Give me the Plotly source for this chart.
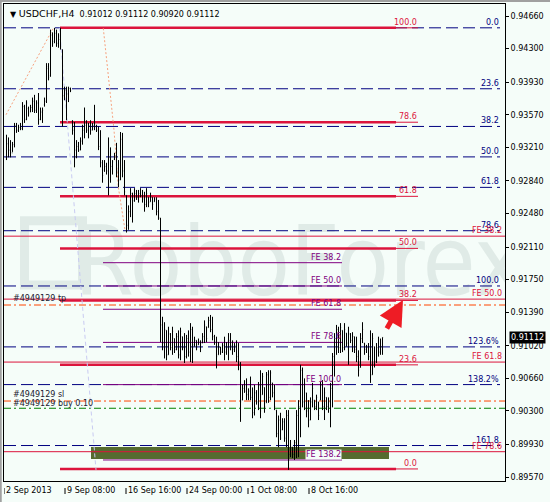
import plotly.graph_objects as go

# ---------------- data (USDCHF H4 bars) ----------------
high = [0.9335,0.9332,0.9329,0.9327,0.9348,0.9348,0.9346,0.9348,0.9371,0.9368,
        0.9373,0.9366,0.9368,0.9376,0.9379,0.9373,0.9381,0.9365,0.9365,0.9376,
        0.9414,0.9414,0.9451,0.9448,0.9453,0.9451,0.9447,0.9453,0.9429,0.9388,
        0.9388,0.9388,0.9387,0.9351,0.9349,0.9329,0.9327,0.9332,0.9346,0.9365,
        0.9351,0.9348,0.9351,0.9348,0.9368,0.9346,0.9344,0.9340,0.9307,0.9307,
        0.9304,0.9332,0.9321,0.9307,0.9315,0.9326,0.9307,0.9338,0.9337,0.9307,
        0.9268,0.9257,0.9276,0.9271,0.9276,0.9274,0.9274,0.9276,0.9274,0.9272,
        0.9276,0.9266,0.9271,0.9266,0.9266,0.9266,0.9263,0.9243,0.9134,0.9128,
        0.9119,0.9123,0.9116,0.9123,0.9110,0.9116,0.9119,0.9122,0.9112,0.9116,
        0.9114,0.9119,0.9127,0.9123,0.9112,0.9108,0.9110,0.9108,0.9116,0.9130,
        0.9123,0.9134,0.9136,0.9134,0.9114,0.9112,0.9106,0.9101,0.9105,0.9112,
        0.9106,0.9116,0.9116,0.9108,0.9105,0.9108,0.9105,0.9084,0.9059,0.9064,
        0.9066,0.9055,0.9068,0.9056,0.9059,0.9053,0.9062,0.9075,0.9072,0.9056,
        0.9073,0.9075,0.9075,0.9061,0.9059,0.9031,0.9025,0.9028,0.9022,0.9022,
        0.9031,0.9031,0.8998,0.8990,0.8998,0.9031,0.9042,0.9081,0.9078,0.9066,
        0.9050,0.9042,0.9045,0.9061,0.9042,0.9048,0.9040,0.9062,0.9064,0.9056,
        0.9045,0.9045,0.9061,0.9094,0.9116,0.9125,0.9123,0.9127,0.9119,0.9127,
        0.9116,0.9123,0.9116,0.9117,0.9112,0.9112,0.9097,0.9116,0.9128,0.9105,
        0.9103,0.9105,0.9119,0.9116,0.9101,0.9105,0.9112,0.9110,0.91112]
low = [0.9307,0.9310,0.9310,0.9316,0.9321,0.9337,0.9338,0.9340,0.9340,0.9348,
       0.9351,0.9355,0.9360,0.9360,0.9359,0.9359,0.9346,0.9351,0.9348,0.9366,
       0.9370,0.9395,0.9399,0.9432,0.9436,0.9432,0.9431,0.9429,0.9344,0.9373,
       0.9351,0.9371,0.9382,0.9335,0.9299,0.9309,0.9316,0.9318,0.9324,0.9331,
       0.9337,0.9331,0.9335,0.9340,0.9340,0.9338,0.9318,0.9299,0.9282,0.9294,
       0.9291,0.9268,0.9282,0.9291,0.9307,0.9288,0.9277,0.9285,0.9288,0.9268,
       0.9227,0.9230,0.9244,0.9238,0.9261,0.9263,0.9260,0.9266,0.9260,0.9250,
       0.9255,0.9255,0.9261,0.9252,0.9261,0.9246,0.9241,0.9106,0.9097,0.9088,
       0.9086,0.9092,0.9097,0.9092,0.9094,0.9097,0.9088,0.9086,0.9097,0.9083,
       0.9088,0.9090,0.9084,0.9083,0.9101,0.9097,0.9103,0.9095,0.9105,0.9105,
       0.9106,0.9122,0.9117,0.9108,0.9103,0.9077,0.9092,0.9092,0.9094,0.9086,
       0.9092,0.9086,0.9097,0.9092,0.9095,0.9084,0.9075,0.9018,0.9042,0.9050,
       0.9042,0.9042,0.9042,0.9022,0.9025,0.9037,0.9031,0.9022,0.9048,0.9028,
       0.9039,0.9039,0.9042,0.9045,0.9031,0.9001,0.8990,0.8998,0.9009,0.8996,
       0.8990,0.8965,0.8979,0.8978,0.8976,0.8978,0.8979,0.9001,0.9034,0.9031,
       0.9023,0.9012,0.9020,0.9034,0.9031,0.9031,0.9020,0.9042,0.9031,0.9020,
       0.9031,0.9028,0.9012,0.9034,0.9068,0.9092,0.9094,0.9094,0.9095,0.9097,
       0.9101,0.9081,0.9105,0.9095,0.9094,0.9084,0.9068,0.9078,0.9105,0.9092,
       0.9094,0.9086,0.9061,0.9070,0.9078,0.9083,0.9090,0.9092,0.90920]
open_ = [0.9310,0.9325,0.9318,0.9315,0.9324,0.9345,0.9340,0.9343,0.9342,0.9366,
         0.9352,0.9364,0.9360,0.9365,0.9372,0.9362,0.9370,0.9352,0.9360,0.9368,
         0.9372,0.9408,0.9400,0.9445,0.9438,0.9447,0.9436,0.9440,0.9429,0.9378,
         0.9384,0.9380,0.9386,0.9350,0.9340,0.9318,0.9322,0.9318,0.9328,0.9340,
         0.9345,0.9340,0.9345,0.9340,0.9345,0.9344,0.9340,0.9322,0.9304,0.9296,
         0.9300,0.9295,0.9310,0.9300,0.9308,0.9312,0.9295,0.9285,0.9330,0.9295,
         0.9268,0.9235,0.9250,0.9270,0.9262,0.9270,0.9266,0.9270,0.9268,0.9264,
         0.9258,0.9266,0.9261,0.9266,0.9261,0.9264,0.9250,0.9243,0.9125,0.9105,
         0.9119,0.9092,0.9115,0.9100,0.9110,0.9098,0.9112,0.9092,0.9112,0.9100,
         0.9090,0.9110,0.9095,0.9120,0.9103,0.9108,0.9103,0.9106,0.9105,0.9112,
         0.9123,0.9122,0.9130,0.9120,0.9112,0.9106,0.9092,0.9100,0.9095,0.9102,
         0.9095,0.9100,0.9108,0.9102,0.9098,0.9102,0.9090,0.9082,0.9042,0.9055,
         0.9052,0.9048,0.9052,0.9045,0.9028,0.9050,0.9040,0.9058,0.9048,0.9056,
         0.9039,0.9070,0.9045,0.9061,0.9050,0.9031,0.9005,0.9020,0.9009,0.9018,
         0.9000,0.9025,0.8982,0.8990,0.8982,0.8995,0.9025,0.9035,0.9075,0.9040,
         0.9050,0.9030,0.9020,0.9040,0.9042,0.9035,0.9040,0.9042,0.9058,0.9035,
         0.9045,0.9035,0.9040,0.9055,0.9090,0.9110,0.9120,0.9100,0.9119,0.9100,
         0.9116,0.9105,0.9115,0.9108,0.9112,0.9098,0.9090,0.9078,0.9110,0.9105,
         0.9098,0.9100,0.9090,0.9070,0.9101,0.9085,0.9100,0.9095,0.91012]
close = [0.9325,0.9318,0.9315,0.9324,0.9345,0.9340,0.9343,0.9342,0.9366,0.9352,
         0.9370,0.9358,0.9365,0.9372,0.9362,0.9370,0.9352,0.9360,0.9362,0.9372,
         0.9410,0.9398,0.9445,0.9436,0.9447,0.9436,0.9440,0.9432,0.9378,0.9384,
         0.9380,0.9386,0.9384,0.9340,0.9318,0.9322,0.9318,0.9328,0.9340,0.9345,
         0.9340,0.9345,0.9340,0.9345,0.9344,0.9340,0.9322,0.9304,0.9290,0.9300,
         0.9295,0.9310,0.9300,0.9305,0.9312,0.9295,0.9285,0.9330,0.9295,0.9272,
         0.9235,0.9250,0.9270,0.9262,0.9270,0.9266,0.9270,0.9268,0.9264,0.9258,
         0.9270,0.9260,0.9266,0.9258,0.9264,0.9250,0.9243,0.9125,0.9105,0.9120,
         0.9092,0.9115,0.9100,0.9118,0.9098,0.9112,0.9092,0.9118,0.9100,0.9090,
         0.9110,0.9095,0.9120,0.9103,0.9108,0.9100,0.9106,0.9100,0.9112,0.9125,
         0.9110,0.9130,0.9120,0.9112,0.9106,0.9090,0.9100,0.9095,0.9102,0.9095,
         0.9100,0.9108,0.9102,0.9098,0.9102,0.9090,0.9082,0.9040,0.9055,0.9052,
         0.9048,0.9052,0.9045,0.9028,0.9050,0.9040,0.9058,0.9030,0.9068,0.9035,
         0.9070,0.9045,0.9072,0.9050,0.9035,0.9005,0.9020,0.9000,0.9018,0.9000,
         0.9025,0.8982,0.8990,0.8982,0.8995,0.9025,0.9035,0.9075,0.9040,0.9060,
         0.9030,0.9020,0.9040,0.9055,0.9035,0.9045,0.9025,0.9058,0.9035,0.9050,
         0.9035,0.9040,0.9055,0.9090,0.9110,0.9120,0.9100,0.9122,0.9100,0.9120,
         0.9105,0.9115,0.9108,0.9112,0.9098,0.9090,0.9075,0.9110,0.9120,0.9098,
         0.9100,0.9090,0.9070,0.9110,0.9085,0.9100,0.9095,0.9101,0.91112]

ytick_vals = [0.94660, 0.94300, 0.93930, 0.93570, 0.93210, 0.92840, 0.92480, 0.92110,
              0.91750, 0.91390, 0.91020, 0.90660, 0.90300, 0.89930, 0.89570]
xtick_text = ["2 Sep 2013", "9 Sep 08:00", "16 Sep 16:00", "24 Sep 00:00", "1 Oct 08:00", "8 Oct 16:00"]
xtick_pos = [-1.25, 29.25, 59.75, 90.25, 120.75, 151.25]

symbol = "USDCHF,H4"
last_ohlc = [0.91012, 0.91112, 0.90920, 0.91112]

# Fibonacci retracement (navy, dashed)
fib_navy_hi, fib_navy_lo = 0.9453, 0.9168
fib_navy_levels = [0.0, 0.236, 0.382, 0.5, 0.618, 0.786, 1.0, 1.236, 1.382, 1.618]
fib_navy_labels = ["0.0", "23.6", "38.2", "50.0", "61.8", "78.6", "100.0", "123.6%", "138.2%", "161.8"]
# Fibonacci retracement (crimson, thick)
fib_red_hi, fib_red_lo = 0.9453, 0.8966
fib_red_levels = [0.0, 0.236, 0.382, 0.5, 0.618, 0.786, 1.0]
fib_red_labels = ["0.0", "23.6", "38.2", "50.0", "61.8", "78.6", "100.0"]
# Fibonacci expansion (crimson, thin)
fe_red_start, fe_red_size = 0.9448, 0.0589
fe_red_levels = [0.382, 0.5, 0.618, 0.786]
fe_red_labels = ["FE 38.2", "FE 50.0", "FE 61.8", "FE 78.6"]
# Fibonacci expansion (purple)
fe_pur_start, fe_pur_size = 0.92769, 0.02178
fe_pur_levels = [0.382, 0.5, 0.618, 0.786, 1.0, 1.382]
fe_pur_labels = ["FE 38.2", "FE 50.0", "FE 61.8", "FE 78.6", "FE 100.0", "FE 138.2"]

# order lines
order_id = "#4949129"
order_tp, order_sl, order_open, order_lots = 0.9147, 0.9041, 0.9033, "0.10"

# drawing anchors (bar index, price)
fib_red_x = [26.75, 194.75, 205.75]
fib_navy_label_x = 246.75
fe_red_label_x = 248.25
fe_pur_x = [48.25, 167.75]
zone_x = [42.25, 191.25]
zone_y = [0.89770, 0.89902]
fib_diag_x = [26.5, 44.75]
fib_diag_y = [0.9453, 0.8965]
swing1_x = [-0.25, 23.25]
swing1_y = [0.9357, 0.9452]
swing2_x = [48.4, 51.4, 53.75, 55.9, 59.25]
swing2_y = [0.94525, 0.93899, 0.93402, 0.92773, 0.92298]
arrow_from = (189.75, 0.91194)
arrow_to = (198.25, 0.91525)
watermark = "RoboForex"

# ---------------- styling ----------------
BG = "#F5FDF9"
NAVY = "#000080"
CRIMSON = "#DC143C"
PURPLE = "#800080"
ORANGE = "#FF4500"
GREEN = "#008000"
FONT = "DejaVu Sans"
YMIN, YMAX = 0.89527, 0.94793
XMIN, XMAX = -1.25, 249.25

idx = list(range(len(high)))
fig = go.Figure()
fig.add_trace(go.Ohlc(x=idx, open=open_, high=high, low=low, close=close,
                      increasing=dict(line=dict(color="black", width=1)),
                      decreasing=dict(line=dict(color="black", width=1)),
                      tickwidth=0.3, hoverinfo="skip", showlegend=False))

shapes = []
annos = []

def hline(x0, x1, y, color, width=1, dash="solid"):
    shapes.append(dict(type="line", xref="x", yref="y", x0=x0, x1=x1, y0=y, y1=y,
                       line=dict(color=color, width=width, dash=dash), layer="below"))

def label(x, y, text, color, xanchor="right", bg=None, yshift=0):
    a = dict(x=x, y=y, xref="x", yref="y", text=text, showarrow=False,
             xanchor=xanchor, yanchor="bottom", yshift=yshift, borderpad=0,
             font=dict(family=FONT, size=8, color=color))
    if bg:
        a["bgcolor"] = bg
    annos.append(a)

# watermark (below bars)
shapes.append(dict(type="rect", xref="x", yref="y", x0=46, x1=247, y0=0.9170, y1=0.9235,
                   line=dict(width=0), fillcolor="rgba(0,0,0,0)", layer="below",
                   label=dict(text=watermark, textposition="middle center",
                              font=dict(family="Liberation Sans Narrow, DejaVu Sans Condensed, Liberation Sans",
                                        size=96, color="#E0EBE7"))))
shapes.append(dict(type="rect", xref="x", yref="y", x0=9, x1=38, y0=0.9169, y1=0.9240,
                   line=dict(width=9, color="#E0EBE7"), fillcolor="rgba(0,0,0,0)", layer="below"))

# green zone
shapes.append(dict(type="rect", xref="x", yref="y", x0=zone_x[0], x1=zone_x[1],
                   y0=zone_y[0], y1=zone_y[1], line=dict(width=0),
                   fillcolor="#556B2F", layer="below"))

# navy fibo
for r, t in zip(fib_navy_levels, fib_navy_labels):
    y = fib_navy_hi - r * (fib_navy_hi - fib_navy_lo)
    hline(XMIN, fib_navy_label_x, y, NAVY, 1, "12px,5px")
    label(fib_navy_label_x, y, t, NAVY)

# crimson FE thin lines
for r, t in zip(fe_red_levels, fe_red_labels):
    y = fe_red_start - r * fe_red_size
    hline(XMIN, XMAX, y, CRIMSON, 1)
    label(fe_red_label_x, y, t, CRIMSON)

# crimson fibo thick
for r, t in zip(fib_red_levels, fib_red_labels):
    y = fib_red_lo + r * (fib_red_hi - fib_red_lo)
    hline(fib_red_x[0], fib_red_x[1], y, CRIMSON, 2.5)
    hline(fib_red_x[1], fib_red_x[2], y, CRIMSON, 1)
    label(fib_red_x[2], y, t, CRIMSON)

# purple FE
for r, t in zip(fe_pur_levels, fe_pur_labels):
    y = fe_pur_start - r * fe_pur_size
    hline(fe_pur_x[0], fe_pur_x[1], y, PURPLE, 1)
    label(fe_pur_x[1], y, t, PURPLE, bg=(BG if t == "FE 138.2" else None))

# order lines
hline(XMIN, XMAX, order_tp, ORANGE, 1, "7px,3px,2px,3px")
hline(XMIN, XMAX, order_sl, ORANGE, 1, "7px,3px,2px,3px")
hline(XMIN, XMAX, order_open, GREEN, 1, "7px,3px,2px,3px")
label(2.75, order_tp, order_id + " tp", "#202030", xanchor="left", yshift=1)
label(2.75, order_sl, order_id + " sl", "#202030", xanchor="left", yshift=1)
label(2.75, order_open, order_id + " buy " + order_lots, "#202030", xanchor="left", yshift=-1)

# diagonal / swing lines
shapes.append(dict(type="line", xref="x", yref="y", x0=fib_diag_x[0], x1=fib_diag_x[1],
                   y0=fib_diag_y[0], y1=fib_diag_y[1],
                   line=dict(color="#C9CBF2", width=1, dash="4px,3px"), layer="below"))
shapes.append(dict(type="line", xref="x", yref="y", x0=swing1_x[0], x1=swing1_x[1],
                   y0=swing1_y[0], y1=swing1_y[1],
                   line=dict(color="#F7A27F", width=1, dash="2px,2px"), layer="below"))
path = "M " + " L ".join(f"{x},{y}" for x, y in zip(swing2_x, swing2_y))
shapes.append(dict(type="path", xref="x", yref="y", path=path,
                   line=dict(color="#F7A27F", width=1, dash="2px,2px"), layer="below"))

# x tick separators + labels
for p, t in zip(xtick_pos, xtick_text):
    shapes.append(dict(type="line", xref="x", yref="paper", ysizemode="pixel", yanchor=0,
                       x0=p, x1=p, y0=-7, y1=-13, line=dict(color="black", width=1)))
    annos.append(dict(x=p, y=0, xref="x", yref="paper", text=t, showarrow=False,
                      xanchor="left", yanchor="top", xshift=1, yshift=-4, borderpad=0,
                      font=dict(family=FONT, size=8, color="black")))

# outer gray window frame
shapes.append(dict(type="line", xref="paper", yref="paper", x0=-0.0065, x1=-0.0065,
                   y0=-0.05, y1=1.01, line=dict(color="#A0A0A0", width=2)))
shapes.append(dict(type="line", xref="paper", yref="paper", x0=-0.01, x1=1.1,
                   y0=1.0065, y1=1.0065, line=dict(color="#A0A0A0", width=2)))

# title
title_txt = ("\u25BC <span style='font-size:9.5px'>" + symbol + "</span>\u00a0 "
             + " ".join(f"{v:.5f}" for v in last_ohlc))
annos.append(dict(x=0.01, y=0.981, xref="paper", yref="paper", text=title_txt, showarrow=False,
                  xanchor="left", yanchor="middle", borderpad=0,
                  font=dict(family=FONT, size=8, color="black")))

# current price box
annos.append(dict(x=1, y=last_ohlc[3], xref="paper", yref="y", text=f"{last_ohlc[3]:.5f}",
                  showarrow=False, xanchor="left", yanchor="middle", xshift=4, borderpad=1,
                  bgcolor="black", font=dict(family=FONT, size=8, color="white")))

# red arrow
annos.append(dict(x=arrow_to[0], y=arrow_to[1], ax=arrow_from[0], ay=arrow_from[1],
                  xref="x", yref="y", axref="x", ayref="y", text="", showarrow=True,
                  arrowhead=2, arrowsize=1, arrowwidth=5, arrowcolor="#EE1C25"))

fig.update_layout(
    width=550, height=502,
    margin=dict(l=4, r=45, t=4, b=21),
    paper_bgcolor=BG, plot_bgcolor=BG,
    font=dict(family=FONT, size=8, color="black"),
    showlegend=False,
    shapes=shapes, annotations=annos,
    xaxis=dict(range=[XMIN, XMAX], rangeslider=dict(visible=False), showgrid=False,
               zeroline=False, showline=True, linecolor="black", linewidth=1, mirror=True,
               showticklabels=False, ticks=""),
    yaxis=dict(range=[YMIN, YMAX], side="right", tickvals=ytick_vals,
               ticktext=[f"{v:.5f}" for v in ytick_vals], ticks="outside", ticklen=3,
               tickcolor="black", showgrid=False, zeroline=False, showline=True,
               linecolor="black", linewidth=1, mirror=True,
               tickfont=dict(family=FONT, size=8, color="black")),
)

fig.write_html("out.html", config={"displayModeBar": False},
               post_script="document.body.style.margin='0';document.body.style.overflow='hidden';")
